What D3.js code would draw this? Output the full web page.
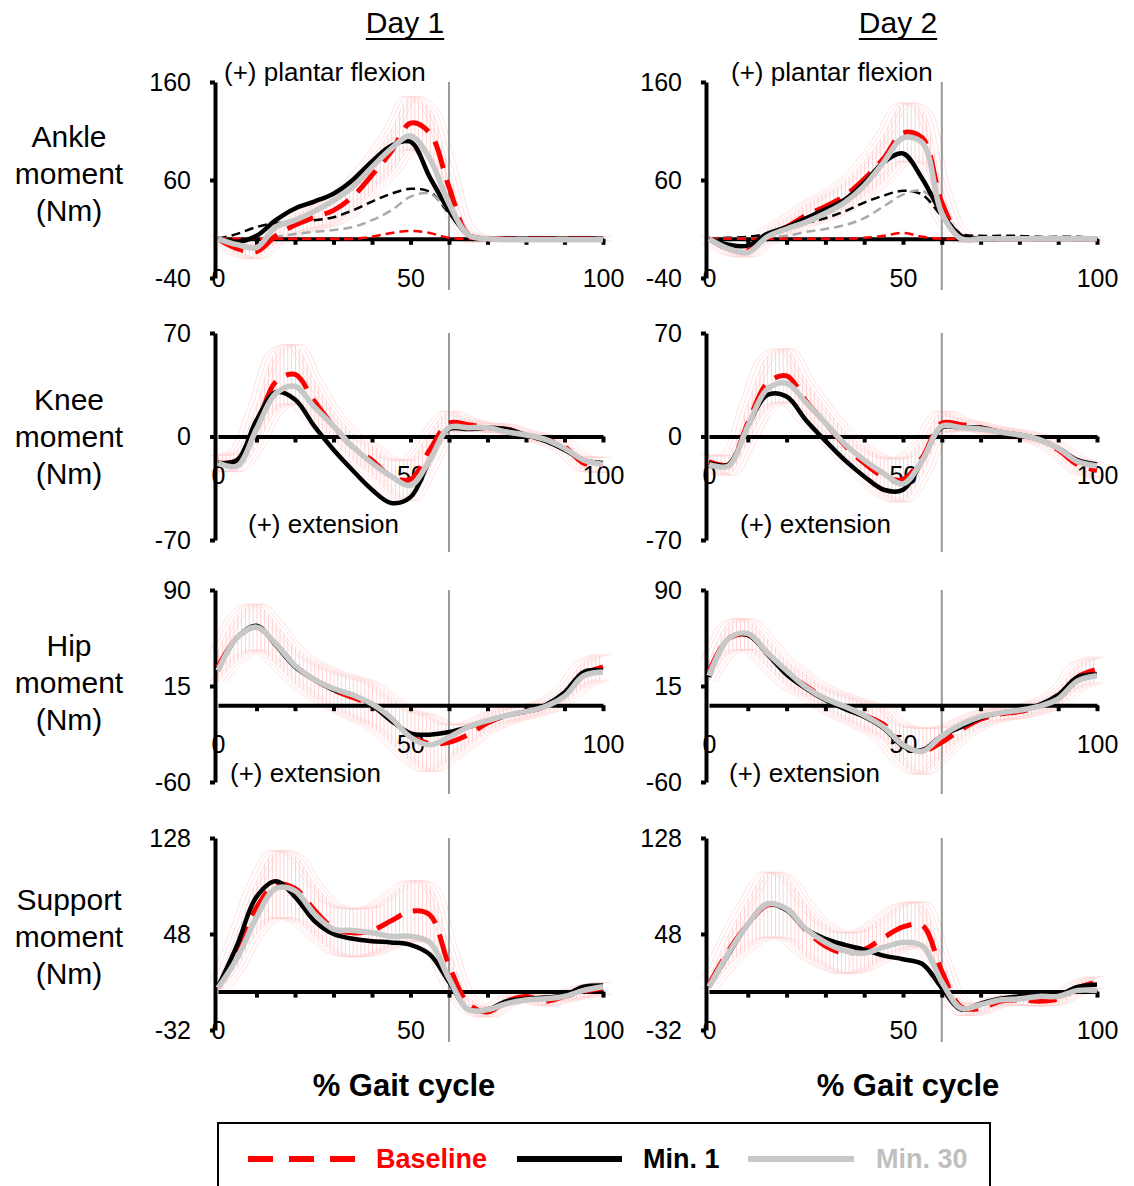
<!DOCTYPE html>
<html>
<head>
<meta charset="utf-8">
<script src="https://cdn.jsdelivr.net/npm/d3@7"></script>
<style>
  body { margin: 0; background: #fff; }
  text { font-family: Arial, "Liberation Sans", sans-serif; }
</style>
</head>
<body>
<div id="chart"></div>
<script>
// % gait cycle sample points
var pct = [0, 5, 10, 15, 20, 25, 30, 35, 40, 45, 50, 55, 60, 65, 70, 75, 80, 85, 90, 95, 100];

// Ankle moment, Day 1
var ankle1Base  = [0, -10, -13, 3, 14, 22, 29, 43, 65, 89, 118, 108, 53, 4, 0, 0, 0, 0, 0, 0, 0];
var ankle1Min1  = [0, -3, 3, 19, 31, 38, 46, 60, 79, 95, 99, 63, 29, 4, 0, 0, 0, 0, 0, 0, 0];
var ankle1Min30 = [0, -6, -9, 12, 19, 28, 39, 53, 73, 92, 105, 82, 36, 4, 0, -1, -1, -1, -1, -1, -1];
var ankle1SD    = [3, 6, 7, 8, 10, 12, 14, 16, 18, 22, 27, 25, 18, 6, 2, 2, 2, 2, 2, 2, 2];
var ankle1DashK = [0, 5, 12, 16, 17, 19, 22, 29, 38, 46, 51, 48, 26, 4, 0, 0, 0, 0, 0, 0, 0];
var ankle1DashG = [0, 0, 0, 2, 5, 7, 9, 12, 19, 29, 43, 46, 28, 4, 0, 0, 0, 0, 0, 0, 0];
var ankle1DashR = [0, 0, 0, 0, 0, 0, 0, 0, 2, 6, 8, 6, 1, 0, 0, 0, 0, 0, 0, 0, 0];

// Ankle moment, Day 2
var ankle2Base  = [0, -10, -12, 2, 12, 24, 33, 44, 61, 82, 108, 103, 37, 2, 0, 0, 0, 0, 0, 0, 0];
var ankle2Min1  = [0, -6, -7, 5, 12, 21, 30, 40, 57, 78, 87, 61, 26, 3, 0, 0, 0, 0, 0, 0, 0];
var ankle2Min30 = [0, -10, -14, 2, 10, 17, 26, 37, 54, 78, 103, 98, 26, 0, 0, 0, 0, 0, 0, 0, 0];
var ankle2SD    = [3, 5, 6, 7, 9, 11, 13, 15, 18, 24, 30, 28, 16, 5, 2, 2, 2, 2, 2, 2, 2];
var ankle2DashK = [0, 1, 2, 5, 10, 16, 21, 28, 37, 44, 49, 45, 23, 5, 3, 3, 3, 2, 2, 2, 1];
var ankle2DashG = [0, 0, 0, 1, 3, 7, 10, 14, 21, 33, 45, 49, 30, 3, 0, 0, 0, 0, 0, 0, 0];
var ankle2DashR = [0, 0, 0, 0, 0, 0, 0, 0, 1, 3, 6, 2, 0, 0, 0, 0, 0, 0, 0, 0, 0];

// Knee moment
var knee1Base  = [-18, -16, 7, 37, 42, 24, 7, -7, -16, -27, -29, -9, 9, 8, 6, 5, 1, -2, -7, -18, -19];
var knee1Min1  = [-18, -16, 11, 30, 25, 7, -9, -23, -36, -45, -41, -16, 5, 5, 6, 5, 1, -3, -9, -16, -18];
var knee1Min30 = [-18, -20, 5, 29, 34, 20, 7, -7, -18, -27, -33, -16, 6, 6, 6, 3, 1, -2, -8, -16, -19];
var knee1SD    = [5, 7, 14, 20, 20, 14, 10, 9, 10, 12, 14, 12, 8, 4, 3, 3, 3, 3, 4, 5, 5];
var knee2Base  = [-17, -19, 9, 36, 41, 24, 9, -6, -18, -27, -29, -14, 9, 8, 6, 3, 1, -2, -9, -19, -23];
var knee2Min1  = [-18, -19, 7, 28, 27, 11, -3, -16, -27, -36, -36, -16, 6, 6, 6, 3, 1, -2, -8, -16, -19];
var knee2Min30 = [-19, -20, 7, 32, 36, 23, 9, -5, -16, -25, -32, -16, 7, 6, 5, 3, 1, -2, -8, -17, -20];
var knee2SD    = [5, 7, 13, 18, 18, 14, 11, 10, 11, 13, 15, 12, 8, 4, 3, 3, 3, 3, 4, 5, 5];

// Hip moment
var hip1Base  = [30, 53, 61, 48, 31, 20, 12, 6, 0, -12, -24, -30, -29, -23, -14, -8, -5, -1, 8, 24, 30];
var hip1Min1  = [27, 53, 62, 47, 30, 20, 12, 8, 0, -12, -22, -23, -21, -17, -12, -8, -5, 0, 10, 26, 27];
var hip1Min30 = [27, 53, 61, 48, 31, 20, 13, 8, 1, -10, -25, -31, -25, -17, -12, -8, -5, -1, 7, 23, 26];
var hip1SD    = [12, 18, 18, 16, 14, 14, 15, 16, 17, 18, 20, 22, 14, 9, 7, 6, 5, 5, 7, 10, 10];
var hip2Base  = [26, 52, 55, 41, 25, 15, 5, -2, -8, -15, -31, -36, -29, -19, -11, -7, -5, -1, 6, 22, 28];
var hip2Min1  = [22, 52, 55, 40, 24, 13, 4, -3, -9, -18, -32, -35, -24, -17, -10, -6, -4, 0, 8, 22, 24];
var hip2Min30 = [23, 52, 56, 41, 27, 14, 5, -1, -8, -17, -31, -36, -24, -15, -9, -6, -4, -1, 5, 19, 23];
var hip2SD    = [8, 12, 12, 11, 10, 9, 9, 10, 11, 13, 16, 18, 12, 8, 6, 5, 5, 5, 7, 10, 10];

// Support moment
var sup1Base  = [3, 34, 70, 89, 86, 68, 53, 49, 51, 59, 67, 64, 22, -10, -17, -8, -4, -8, -4, 0, 3];
var sup1Min1  = [4, 39, 79, 92, 79, 59, 48, 44, 42, 41, 39, 31, 8, -15, -15, -8, -6, -5, -3, 4, 5];
var sup1Min30 = [3, 28, 62, 86, 84, 65, 52, 51, 49, 46, 46, 41, 11, -15, -15, -10, -7, -6, -4, 1, 4];
var sup1SD    = [5, 15, 22, 28, 27, 22, 20, 20, 20, 22, 25, 24, 16, 6, 4, 4, 4, 4, 4, 5, 5];
var sup2Base  = [6, 34, 56, 72, 69, 51, 38, 32, 35, 45, 54, 55, 17, -13, -14, -8, -7, -8, -6, 3, 8];
var sup2Min1  = [4, 31, 56, 73, 68, 52, 44, 39, 35, 30, 27, 23, 3, -15, -10, -6, -4, -4, -3, 4, 6];
var sup2Min30 = [4, 32, 56, 73, 69, 52, 41, 34, 32, 37, 41, 38, 8, -14, -11, -7, -6, -4, -4, 1, 1];
var sup2SD    = [5, 13, 20, 27, 26, 22, 18, 17, 17, 18, 19, 18, 12, 6, 4, 4, 4, 4, 4, 5, 5];

var xTicks = [10, 20, 30, 40, 50, 60, 70, 80, 90, 100];
var xLabels = [0, 50, 100];
var toeOff = 60;

var cols = [
  {x0: 218, x1: 603, title: "Day 1", titleX: 405, axisTitleX: 404},
  {x0: 709, x1: 1097, title: "Day 2", titleX: 898, axisTitleX: 908}
];

var rows = [
  {label: ["Ankle", "moment", "(Nm)"], top: 82, bottom: 278, domain: [-40, 160], labelY: 147},
  {label: ["Knee", "moment", "(Nm)"], top: 333, bottom: 540, domain: [-70, 70], labelY: 410},
  {label: ["Hip", "moment", "(Nm)"], top: 590, bottom: 782, domain: [-60, 90], labelY: 656},
  {label: ["Support", "moment", "(Nm)"], top: 838, bottom: 1030, domain: [-32, 128], labelY: 910}
];

var panels = [
  {row: 0, col: 0, base: ankle1Base, min1: ankle1Min1, min30: ankle1Min30, sd: ankle1SD,
   thin: [[ankle1DashK, "#000"], [ankle1DashG, "#aaa"], [ankle1DashR, "#ff0000"]],
   note: {text: "(+) plantar flexion", x: 224, y: 81}},
  {row: 0, col: 1, base: ankle2Base, min1: ankle2Min1, min30: ankle2Min30, sd: ankle2SD,
   thin: [[ankle2DashK, "#000"], [ankle2DashG, "#aaa"], [ankle2DashR, "#ff0000"]],
   note: {text: "(+) plantar flexion", x: 731, y: 81}},
  {row: 1, col: 0, base: knee1Base, min1: knee1Min1, min30: knee1Min30, sd: knee1SD, thin: [],
   note: {text: "(+) extension", x: 248, y: 533}},
  {row: 1, col: 1, base: knee2Base, min1: knee2Min1, min30: knee2Min30, sd: knee2SD, thin: [],
   note: {text: "(+) extension", x: 740, y: 533}},
  {row: 2, col: 0, base: hip1Base, min1: hip1Min1, min30: hip1Min30, sd: hip1SD, thin: [],
   note: {text: "(+) extension", x: 230, y: 782}},
  {row: 2, col: 1, base: hip2Base, min1: hip2Min1, min30: hip2Min30, sd: hip2SD, thin: [],
   note: {text: "(+) extension", x: 729, y: 782}},
  {row: 3, col: 0, base: sup1Base, min1: sup1Min1, min30: sup1Min30, sd: sup1SD, thin: []},
  {row: 3, col: 1, base: sup2Base, min1: sup2Min1, min30: sup2Min30, sd: sup2SD, thin: []}
];

var svg = d3.select("#chart")
  .append("svg")
  .attr("width", 1134)
  .attr("height", 1186);

var defs = svg.append("defs");

// plain hyphen-minus like the original, not the unicode minus
var plainNum = function(d) { return String(d); };

// vertical error-bar hatching, one bar per 1% of the cycle
cols.forEach(function(c, ci) {
  var step = (c.x1 - c.x0) / 100;
  var pat = defs.append("pattern")
    .attr("id", "bars" + ci)
    .attr("patternUnits", "userSpaceOnUse")
    .attr("x", c.x0)
    .attr("y", 0)
    .attr("width", step)
    .attr("height", 4);
  pat.append("line")
    .attr("x1", 0.5).attr("x2", 0.5)
    .attr("y1", 0).attr("y2", 4)
    .attr("stroke", "#ffd2d2")
    .attr("stroke-width", 1);
});

// column titles
cols.forEach(function(c) {
  var t = svg.append("text")
    .attr("x", c.titleX)
    .attr("y", 33)
    .attr("text-anchor", "middle")
    .attr("font-size", 30)
    .text(c.title);
  var w = t.node().getComputedTextLength();
  svg.append("line")
    .attr("x1", c.titleX - w / 2).attr("x2", c.titleX + w / 2)
    .attr("y1", 39).attr("y2", 39)
    .attr("stroke", "#000")
    .attr("stroke-width", 2);

  svg.append("text")
    .attr("x", c.axisTitleX)
    .attr("y", 1096)
    .attr("text-anchor", "middle")
    .attr("font-size", 31)
    .attr("font-weight", "bold")
    .text("% Gait cycle");
});

// row labels
rows.forEach(function(r) {
  r.label.forEach(function(s, i) {
    svg.append("text")
      .attr("x", 69)
      .attr("y", r.labelY + i * 37)
      .attr("text-anchor", "middle")
      .attr("font-size", 30)
      .text(s);
  });
});

panels.forEach(function(p) {
  var c = cols[p.col];
  var r = rows[p.row];
  var g = svg.append("g");

  var x = d3.scaleLinear().domain([0, 100]).range([c.x0, c.x1]);
  var y = d3.scaleLinear().domain(r.domain).range([r.bottom, r.top]);

  var pts = pct.map(function(d, i) {
    return {p: d, m: p.base[i], s: p.sd[i]};
  });

  // baseline SD band
  var band = d3.area()
    .x(function(d) { return x(d.p); })
    .y0(function(d) { return y(d.m - d.s); })
    .y1(function(d) { return y(d.m + d.s); })
    .curve(d3.curveCatmullRom);

  g.append("path")
    .datum(pts)
    .attr("d", band)
    .attr("fill", "url(#bars" + p.col + ")");

  var upper = d3.line()
    .x(function(d) { return x(d.p); })
    .y(function(d) { return y(d.m + d.s); })
    .curve(d3.curveCatmullRom);
  var lower = d3.line()
    .x(function(d) { return x(d.p); })
    .y(function(d) { return y(d.m - d.s); })
    .curve(d3.curveCatmullRom);

  // error bar caps
  [-8, -4, 0, 4, 8].forEach(function(off) {
    [upper, lower].forEach(function(fn) {
      g.append("path")
        .datum(pts)
        .attr("d", fn)
        .attr("transform", "translate(" + off + ",0)")
        .attr("fill", "none")
        .attr("stroke", "#ffcaca")
        .attr("stroke-opacity", 0.55)
        .attr("stroke-width", 1);
    });
  });

  // toe-off line
  g.append("line")
    .attr("x1", x(toeOff)).attr("x2", x(toeOff))
    .attr("y1", r.top).attr("y2", r.bottom + 12)
    .attr("stroke", "#999")
    .attr("stroke-width", 2);

  // y axis
  var mid = (r.domain[0] + r.domain[1]) / 2;
  var yAxis = g.append("g")
    .attr("transform", "translate(" + (c.x0 - 3) + ",0)")
    .call(d3.axisLeft(y)
      .tickValues([r.domain[0], mid, r.domain[1]])
      .tickFormat(plainNum)
      .tickSize(5)
      .tickSizeOuter(0)
      .tickPadding(19));
  yAxis.select(".domain").attr("stroke-width", 4);
  yAxis.selectAll(".tick line").attr("stroke-width", 4);
  yAxis.selectAll("text")
    .attr("font-size", 25)
    .attr("font-family", "Arial, 'Liberation Sans', sans-serif");

  // x axis along zero
  var xAxis = g.append("g")
    .attr("transform", "translate(0," + y(0) + ")")
    .call(d3.axisBottom(x)
      .tickValues(xTicks)
      .tickSize(6)
      .tickSizeOuter(0)
      .tickFormat(""));
  xAxis.select(".domain").attr("stroke-width", 4);
  xAxis.selectAll(".tick line").attr("stroke-width", 4);

  var xLab = g.append("g")
    .attr("transform", "translate(0," + y(0) + ")")
    .call(d3.axisBottom(x)
      .tickValues(xLabels)
      .tickFormat(plainNum)
      .tickSize(0)
      .tickPadding(30));
  xLab.select(".domain").remove();
  xLab.selectAll("text")
    .attr("font-size", 25)
    .attr("font-family", "Arial, 'Liberation Sans', sans-serif");

  var line = function(vals) {
    return d3.line()
      .x(function(d, i) { return x(pct[i]); })
      .y(function(d) { return y(d); })
      .curve(d3.curveCatmullRom)(vals);
  };

  // thin component curves (ankle only)
  p.thin.forEach(function(t) {
    g.append("path")
      .attr("d", line(t[0]))
      .attr("fill", "none")
      .attr("stroke", t[1])
      .attr("stroke-width", 2.5)
      .attr("stroke-dasharray", "9,5");
  });

  g.append("path")
    .attr("d", line(p.base))
    .attr("fill", "none")
    .attr("stroke", "#ff0000")
    .attr("stroke-width", 5)
    .attr("stroke-dasharray", "28,12");

  g.append("path")
    .attr("d", line(p.min1))
    .attr("fill", "none")
    .attr("stroke", "#000")
    .attr("stroke-width", 4.5);

  g.append("path")
    .attr("d", line(p.min30))
    .attr("fill", "none")
    .attr("stroke", "#c8c8c8")
    .attr("stroke-width", 5.5);

  if (p.note) {
    g.append("text")
      .attr("x", p.note.x)
      .attr("y", p.note.y)
      .attr("font-size", 26)
      .text(p.note.text);
  }
});

// legend
var legend = svg.append("g");
legend.append("rect")
  .attr("x", 218).attr("y", 1123)
  .attr("width", 772).attr("height", 90)
  .attr("fill", "none")
  .attr("stroke", "#000")
  .attr("stroke-width", 2);

var legendItems = [
  {name: "Baseline", color: "#ff0000", text: "#ff0000", dash: "25,16", x1: 248, x2: 356, tx: 376},
  {name: "Min. 1", color: "#000", text: "#000", dash: null, x1: 517, x2: 622, tx: 643},
  {name: "Min. 30", color: "#c8c8c8", text: "#bfbfbf", dash: null, x1: 748, x2: 854, tx: 876}
];

legendItems.forEach(function(d) {
  legend.append("line")
    .attr("x1", d.x1).attr("x2", d.x2)
    .attr("y1", 1159).attr("y2", 1159)
    .attr("stroke", d.color)
    .attr("stroke-width", 6)
    .attr("stroke-dasharray", d.dash);
  legend.append("text")
    .attr("x", d.tx)
    .attr("y", 1168)
    .attr("font-size", 27)
    .attr("font-weight", "bold")
    .attr("fill", d.text)
    .text(d.name);
});
</script>
</body>
</html>
